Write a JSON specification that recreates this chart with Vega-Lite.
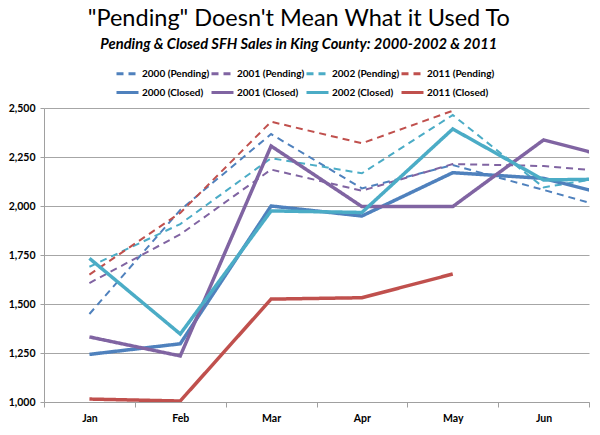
{
  "$schema": "https://vega.github.io/schema/vega-lite/v6.json",
  "width": 545,
  "height": 294,
  "autosize": {"type": "none"},
  "padding": {"left": 44, "top": 108, "right": 11, "bottom": 33},
  "background": "white",
  "title": {
    "text": "\"Pending\" Doesn't Mean What it Used To",
    "subtitle": "Pending & Closed SFH Sales in King County: 2000-2002 & 2011",
    "anchor": "middle",
    "frame": "bounds",
    "font": "Lato",
    "fontSize": 23.5,
    "fontWeight": "normal",
    "color": "black",
    "subtitleFont": "Lato",
    "subtitleFontSize": 14.7,
    "subtitleFontStyle": "italic",
    "subtitleFontWeight": "bold",
    "subtitleColor": "black",
    "subtitlePadding": 7,
    "offset": 9
  },
  "data": {
    "values": [
      {"series": "2000 (Pending)", "kind": "Pending", "month": 1, "value": 1449},
      {"series": "2000 (Pending)", "kind": "Pending", "month": 2, "value": 1980},
      {"series": "2000 (Pending)", "kind": "Pending", "month": 3, "value": 2367},
      {"series": "2000 (Pending)", "kind": "Pending", "month": 4, "value": 2090},
      {"series": "2000 (Pending)", "kind": "Pending", "month": 5, "value": 2209},
      {"series": "2000 (Pending)", "kind": "Pending", "month": 6, "value": 2082},
      {"series": "2000 (Pending)", "kind": "Pending", "month": 7, "value": 1952},
      {"series": "2001 (Pending)", "kind": "Pending", "month": 1, "value": 1607},
      {"series": "2001 (Pending)", "kind": "Pending", "month": 2, "value": 1855},
      {"series": "2001 (Pending)", "kind": "Pending", "month": 3, "value": 2186},
      {"series": "2001 (Pending)", "kind": "Pending", "month": 4, "value": 2078},
      {"series": "2001 (Pending)", "kind": "Pending", "month": 5, "value": 2214},
      {"series": "2001 (Pending)", "kind": "Pending", "month": 6, "value": 2204},
      {"series": "2001 (Pending)", "kind": "Pending", "month": 7, "value": 2164},
      {"series": "2002 (Pending)", "kind": "Pending", "month": 1, "value": 1690},
      {"series": "2002 (Pending)", "kind": "Pending", "month": 2, "value": 1908},
      {"series": "2002 (Pending)", "kind": "Pending", "month": 3, "value": 2244},
      {"series": "2002 (Pending)", "kind": "Pending", "month": 4, "value": 2167},
      {"series": "2002 (Pending)", "kind": "Pending", "month": 5, "value": 2464},
      {"series": "2002 (Pending)", "kind": "Pending", "month": 6, "value": 2095},
      {"series": "2002 (Pending)", "kind": "Pending", "month": 7, "value": 2171},
      {"series": "2011 (Pending)", "kind": "Pending", "month": 1, "value": 1650},
      {"series": "2011 (Pending)", "kind": "Pending", "month": 2, "value": 1965},
      {"series": "2011 (Pending)", "kind": "Pending", "month": 3, "value": 2430},
      {"series": "2011 (Pending)", "kind": "Pending", "month": 4, "value": 2320},
      {"series": "2011 (Pending)", "kind": "Pending", "month": 5, "value": 2486},
      {"series": "2000 (Closed)", "kind": "Closed", "month": 1, "value": 1243},
      {"series": "2000 (Closed)", "kind": "Closed", "month": 2, "value": 1297},
      {"series": "2000 (Closed)", "kind": "Closed", "month": 3, "value": 2000},
      {"series": "2000 (Closed)", "kind": "Closed", "month": 4, "value": 1949},
      {"series": "2000 (Closed)", "kind": "Closed", "month": 5, "value": 2170},
      {"series": "2000 (Closed)", "kind": "Closed", "month": 6, "value": 2141},
      {"series": "2000 (Closed)", "kind": "Closed", "month": 7, "value": 2023},
      {"series": "2001 (Closed)", "kind": "Closed", "month": 1, "value": 1332},
      {"series": "2001 (Closed)", "kind": "Closed", "month": 2, "value": 1235},
      {"series": "2001 (Closed)", "kind": "Closed", "month": 3, "value": 2306},
      {"series": "2001 (Closed)", "kind": "Closed", "month": 4, "value": 1997},
      {"series": "2001 (Closed)", "kind": "Closed", "month": 5, "value": 1997},
      {"series": "2001 (Closed)", "kind": "Closed", "month": 6, "value": 2337},
      {"series": "2001 (Closed)", "kind": "Closed", "month": 7, "value": 2217},
      {"series": "2002 (Closed)", "kind": "Closed", "month": 1, "value": 1733},
      {"series": "2002 (Closed)", "kind": "Closed", "month": 2, "value": 1347},
      {"series": "2002 (Closed)", "kind": "Closed", "month": 3, "value": 1975},
      {"series": "2002 (Closed)", "kind": "Closed", "month": 4, "value": 1967},
      {"series": "2002 (Closed)", "kind": "Closed", "month": 5, "value": 2393},
      {"series": "2002 (Closed)", "kind": "Closed", "month": 6, "value": 2133},
      {"series": "2002 (Closed)", "kind": "Closed", "month": 7, "value": 2139},
      {"series": "2011 (Closed)", "kind": "Closed", "month": 1, "value": 1015},
      {"series": "2011 (Closed)", "kind": "Closed", "month": 2, "value": 1005},
      {"series": "2011 (Closed)", "kind": "Closed", "month": 3, "value": 1525},
      {"series": "2011 (Closed)", "kind": "Closed", "month": 4, "value": 1532},
      {"series": "2011 (Closed)", "kind": "Closed", "month": 5, "value": 1653}
    ]
  },
  "encoding": {
    "x": {
      "field": "month",
      "type": "quantitative",
      "scale": {"domain": [0.5, 6.5], "nice": false, "zero": false},
      "axis": {
        "title": null,
        "values": [0.5, 1, 1.5, 2, 2.5, 3, 3.5, 4, 4.5, 5, 5.5, 6, 6.5],
        "labelExpr": "datum.value % 1 === 0 ? ['Jan','Feb','Mar','Apr','May','Jun'][datum.value - 1] : ''",
        "labelOverlap": false,
        "labelFlush": false,
        "grid": false,
        "domainColor": "#a0a0a0",
        "tickColor": "#a0a0a0",
        "tickSize": 5,
        "tickOpacity": {"condition": {"test": "datum.value % 1 !== 0", "value": 1}, "value": 0},
        "labelPadding": 6,
        "labelFont": "Lato",
        "labelFontSize": 10.5,
        "labelFontWeight": "bold",
        "labelColor": "black"
      }
    },
    "y": {
      "field": "value",
      "type": "quantitative",
      "scale": {"domain": [1000, 2500], "nice": false, "zero": false},
      "axis": {
        "title": null,
        "values": [1000, 1250, 1500, 1750, 2000, 2250, 2500],
        "format": ",d",
        "grid": true,
        "gridColor": "#a6a6a6",
        "gridWidth": 1,
        "domainColor": "#a0a0a0",
        "tickColor": "#a0a0a0",
        "tickSize": 4,
        "labelPadding": 5,
        "labelFont": "Lato",
        "labelFontSize": 10.5,
        "labelFontWeight": "bold",
        "labelColor": "black"
      }
    },
    "color": {
      "field": "series",
      "type": "nominal",
      "scale": {
        "domain": ["2000 (Pending)", "2001 (Pending)", "2002 (Pending)", "2011 (Pending)", "2000 (Closed)", "2001 (Closed)", "2002 (Closed)", "2011 (Closed)"],
        "range": ["#4F81BD", "#8064A2", "#4BACC6", "#C0504D", "#4F81BD", "#8064A2", "#4BACC6", "#C0504D"]
      },
      "legend": {
        "title": null,
        "orient": "none",
        "legendX": 71,
        "legendY": -47,
        "direction": "horizontal",
        "columns": 4,
        "columnPadding": -9,
        "rowPadding": -3
      }
    },
    "strokeDash": {
      "field": "series",
      "type": "nominal",
      "scale": {
        "domain": ["2000 (Pending)", "2001 (Pending)", "2002 (Pending)", "2011 (Pending)", "2000 (Closed)", "2001 (Closed)", "2002 (Closed)", "2011 (Closed)"],
        "range": [[7, 5], [7, 5], [7, 5], [7, 5], [1, 0], [1, 0], [1, 0], [1, 0]]
      },
      "legend": {"title": null}
    }
  },
  "layer": [
    {
      "transform": [{"filter": "datum.kind === 'Pending'"}],
      "mark": {"type": "line", "strokeWidth": 2, "clip": true}
    },
    {
      "transform": [{"filter": "datum.kind === 'Closed'"}],
      "mark": {"type": "line", "strokeWidth": 3.5, "clip": true}
    }
  ],
  "config": {
    "view": {"stroke": null},
    "legend": {
      "symbolType": "stroke",
      "symbolSize": 484,
      "symbolStrokeWidth": 3,
      "labelFont": "Lato",
      "labelFontSize": 10,
      "labelFontWeight": "bold",
      "labelColor": "black",
      "labelOffset": 2
    }
  }
}
